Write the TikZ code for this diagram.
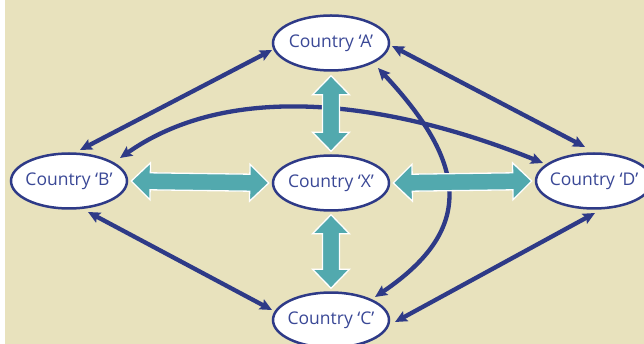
\documentclass[tikz,border=0pt]{standalone}
\usepackage{fontspec}
\setmainfont{Open Sans}
\usetikzlibrary{shapes.geometric,arrows.meta,calc,backgrounds}
\definecolor{bgbeige}{RGB}{232,226,189}
\definecolor{navy}{RGB}{46,58,135}
\definecolor{txtblue}{RGB}{58,72,150}
\definecolor{tealc}{RGB}{82,169,174}
\tikzset{
  country/.style={ellipse, draw=navy, line width=2.5pt, fill=white,
    minimum width=116pt, minimum height=55pt, inner xsep=-8pt, inner ysep=0pt,
    text=txtblue, font=\fontsize{17.5}{19}\selectfont},
  link/.style={navy, line width=4.3pt,
    {Stealth[length=12pt,width=11pt,inset=2pt]}-{Stealth[length=12pt,width=11pt,inset=2pt]}},
  tealarr/.style={fill=tealc, draw=white, line width=1.3pt, line join=miter},
}
\newcommand\tealdbl[2]{%
  \coordinate (tp) at (#1);
  \coordinate (tq) at (#2);
  \filldraw[tealarr] (tp)
    -- ($(tp)!19pt!(tq)!18.5pt!90:(tq)$)
    -- ($(tp)!19pt!(tq)!8.5pt!90:(tq)$)
    -- ($(tq)!19pt!(tp)!8.5pt!-90:(tp)$)
    -- ($(tq)!19pt!(tp)!18.5pt!-90:(tp)$)
    -- (tq)
    -- ($(tq)!19pt!(tp)!18.5pt!90:(tp)$)
    -- ($(tq)!19pt!(tp)!8.5pt!90:(tp)$)
    -- ($(tp)!19pt!(tq)!8.5pt!-90:(tq)$)
    -- ($(tp)!19pt!(tq)!18.5pt!-90:(tq)$)
    -- cycle;}
\begin{document}
\begin{tikzpicture}[x=1pt,y=-1pt]
  \useasboundingbox (0,0) rectangle (644,344);
  \begin{scope}[on background layer]
    \fill[white] (0,0) rectangle (5,344);
    \fill[bgbeige] (5,0) rectangle (644,344);
  \end{scope}

  \node[country] (A) at (331,43)  {Country ‘A’};
  \node[country] (B) at (69,181)  {Country ‘B’};
  \node[country] (X) at (331,183) {Country ‘X’};
  \node[country] (D) at (594,181) {Country ‘D’};
  \node[country] (C) at (331,320) {Country ‘C’};

  \begin{scope}[on background layer]
    \draw[link] ($(A.center)+(-59,7)$) -- ($(B.center)+(11,-31)$);
    \draw[link] ($(A.center)+(61,3)$) -- ($(D.center)+(-9,-34)$);
    \draw[link] ($(B.center)+(19,31)$) -- ($(C.center)+(-59,-10)$);
    \draw[link] ($(D.center)+(1,32)$) -- ($(C.center)+(64,2)$);
    \draw[link] ($(B.center)+(51,-23)$) to[out=35,in=158,looseness=0.88] ($(D.center)+(-51,-18)$);
    \draw[link] ($(A.center)+(47,25)$) to[out=-47,in=34,looseness=1.4] ($(C.center)+(44,-23)$);

    \tealdbl{$(A.south)!4pt!(X.north)$}{$(X.north)!3pt!(A.south)$}
    \tealdbl{$(X.south)!3pt!(C.north)$}{$(C.north)!3pt!(X.south)$}
    \tealdbl{$(B.east)!3pt!(X.west)$}{$(X.west)!3pt!(B.east)$}
    \tealdbl{$(X.east)!3pt!(D.west)$}{$(D.west)!3pt!(X.east)$}
  \end{scope}
\end{tikzpicture}
\end{document}
